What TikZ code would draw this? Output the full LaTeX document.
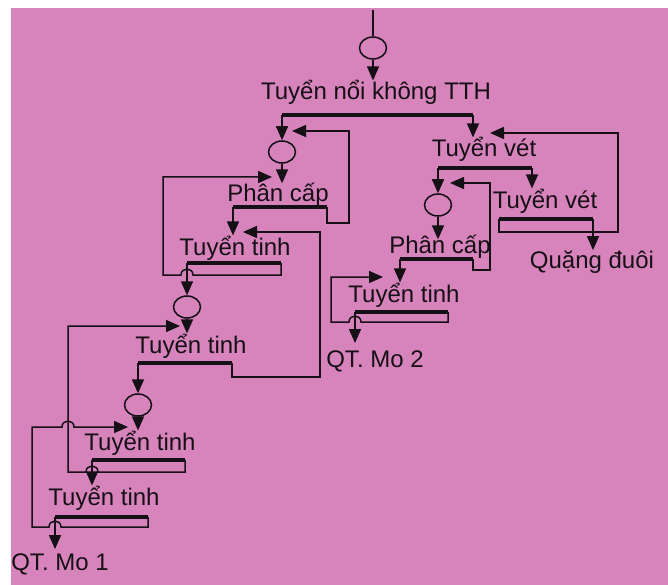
\documentclass[tikz,border=0pt]{standalone}
\usepackage{fontspec}
\setmainfont{Liberation Sans}
\usetikzlibrary{arrows.meta,shapes.geometric}
\definecolor{sheet}{HTML}{D884BC}
\definecolor{ink}{HTML}{151015}
\tikzset{
  op/.style  = {anchor=base, inner sep=0pt, text=ink, font=\fontsize{24}{28}\selectfont},
  mix/.style = {ellipse, draw=ink, line width=1.5pt, minimum width=27pt, minimum height=22pt, inner sep=0pt},
  ln/.style  = {draw=ink, line width=1.5pt},
  fl/.style  = {ln, -{Triangle[length=14pt,width=12pt]}},
  bar/.style = {draw=ink, line width=4.5pt},
}
\begin{document}
\begin{tikzpicture}[x=1pt, y=-1pt]
\useasboundingbox (0,0) rectangle (668,585);
\fill[white] (0,0) rectangle (668,585);
\fill[sheet] (11,8) rectangle (668,585);
% mixers and operations
\node[mix] (m0) at (373,48) {};
\node[op]  (t0) at (376,100) {Tuyển nổi không TTH};
\node[mix] (m1) at (282,152) {};
\node[op]  (pcl) at (278,202) {Phân cấp};
\node[op]  (tt1) at (235,255) {Tuyển tinh};
\node[mix] (m2) at (187,307) {};
\node[op]  (tt2) at (191,353) {Tuyển tinh};
\node[mix] (m3) at (138,405) {};
\node[op]  (tt3) at (140,450) {Tuyển tinh};
\node[op]  (tt4) at (104,505) {Tuyển tinh};
\node[op]  (mo1) at (60,570) {QT. Mo 1};
\node[op]  (tv1) at (484,157) {Tuyển vét};
\node[mix] (m4) at (438,205) {};
\node[op]  (tv2) at (545,208) {Tuyển vét};
\node[op]  (qd) at (592,268) {Quặng đuôi};
\node[op]  (pcr) at (440,253) {Phân cấp};
\node[op]  (ttr) at (404,302) {Tuyển tinh};
\node[op]  (mo2) at (375,367) {QT. Mo 2};
% bar ends
\coordinate (feed) at (373,10);
\coordinate (b0l) at (282,115);  \coordinate (b0r) at (473,115);
\coordinate (pcll) at (233,207); \coordinate (pclr) at (327,207);
\coordinate (tt1l) at (187,263); \coordinate (tt1r) at (281,263);
\coordinate (tt2l) at (138,363); \coordinate (tt2r) at (232,363);
\coordinate (tt3l) at (92,460);  \coordinate (tt3r) at (185,460);
\coordinate (tt4l) at (55,517);  \coordinate (tt4r) at (148,517);
\coordinate (tv1l) at (438,168); \coordinate (tv1r) at (532,168);
\coordinate (tv2l) at (499,219); \coordinate (tv2r) at (593,219);
\coordinate (pcrl) at (400,259); \coordinate (pcrr) at (473,259);
\coordinate (ttrl) at (355,312); \coordinate (ttrr) at (448,312);
% return inlets
\coordinate (a1) at (292,131); \coordinate (a2) at (272,177);
\coordinate (a3) at (243,232); \coordinate (a4) at (180,326);
\coordinate (a5) at (128,427); \coordinate (a6) at (490,133);
\coordinate (a7) at (450,183); \coordinate (a8) at (383,277);
% bars
\foreach \b in {b0,pcl,tt1,tt2,tt3,tt4,tv1,tv2,pcr,ttr}
  \draw[bar] (\b l) -- (\b r);
% main flow
\draw[ln] (feed) -- (m0.north);
\draw[fl] (m0.south) -- (m0.south |- t0.north);
\draw[fl] (b0l) -- (m1.north);
\draw[fl] (b0r) -- (b0r |- tv1.north);
\draw[fl] (m1.south) -- (m1.south |- pcl.north);
\draw[fl] (pcll) -- (pcll |- tt1.north);
\draw[fl] (tt1l) -- (m2.north);
\draw[fl] (m2.south) -- (m2.south |- tt2.north);
\draw[fl] (tt2l) -- (m3.north);
\draw[fl] (m3.south) -- (m3.south |- tt3.north);
\draw[fl] (tt3l) -- (tt3l |- tt4.north);
\draw[fl] (tt4l) -- ([yshift=4pt]tt4l |- mo1.north);
\draw[fl] (tv1l) -- (m4.north);
\draw[fl] (tv1r) -- (tv1r |- tv2.north);
\draw[fl] (m4.south) -- ([yshift=-5pt]m4.south |- pcr.north);
\draw[fl] (pcrl) -- (pcrl |- ttr.north);
\draw[fl] (ttrl) -- ([yshift=7pt]ttrl |- mo2.north);
\draw[fl] (tv2r) -- (tv2r |- qd.north);
% returns
\draw[fl] (pclr) |- (349,223) |- (a1);
\draw[fl] (tt1r) |- (193,275) .. controls (193,267) and (181,267) .. (181,275) -- (163,275) |- (a2);
\draw[fl] (tt2r) |- (320,377) |- (a3);
\draw[fl] (tt3r) |- (98,472) .. controls (98,464) and (86,464) .. (86,472) -- (68,472) |- (a4);
\draw[fl] (tt4r) |- (61,527) .. controls (61,519) and (49,519) .. (49,527) -- (32,527)
  |- (62,427) .. controls (62,419) and (74,419) .. (74,427) -- (a5);
\draw[fl] (tv2l) |- (618,232) |- (a6);
\draw[fl] (pcrr) |- (490,270) |- (a7);
\draw[fl] (ttrr) |- (361,322) .. controls (361,314) and (349,314) .. (349,322) -- (331,322) |- (a8);
\end{tikzpicture}
\end{document}
